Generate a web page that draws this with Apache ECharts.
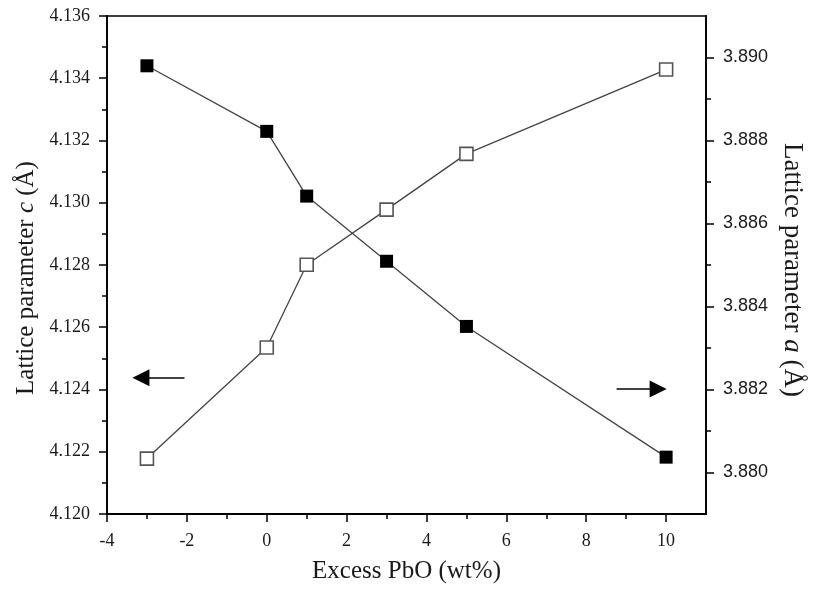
<!DOCTYPE html>
<html>
<head>
<meta charset="utf-8">
<script src="https://cdn.jsdelivr.net/npm/echarts@6/dist/echarts.min.js"></script>
<style>
html,body{margin:0;padding:0;background:#fff;}
#chart{width:814px;height:589px;}
</style>
</head>
<body>
<div id="chart"></div>
<script>
// ---- data ----
const excessPbO = [-3, 0, 1, 3, 5, 10];
const latticeC = [4.12178, 4.12535, 4.12801, 4.12978, 4.13157, 4.13428]; // open squares, left axis
const latticeA = [3.88980, 3.88822, 3.88666, 3.88509, 3.88352, 3.88037]; // filled squares, right axis

const xTickValues = [-4, -2, 0, 2, 4, 6, 8, 10];
const xMinorTickValues = [-3, -1, 1, 3, 5, 7, 9];
const leftTickValues = [4.120, 4.122, 4.124, 4.126, 4.128, 4.130, 4.132, 4.134, 4.136];
const rightTickValues = [3.880, 3.882, 3.884, 3.886, 3.888, 3.890];
const rightMinorTickValues = [3.881, 3.883, 3.885, 3.887, 3.889];

// arrow annotations (data coordinates)
const arrowC = [[-2.06, 4.12438], [-3.15, 4.12438]];
const arrowA = [[8.76, 3.88201], [9.8, 3.88201]];

const serif = 'Liberation Serif';
const sans = 'Liberation Sans';
const txt = '#1a1a1a';

const chart = echarts.init(document.getElementById('chart'), null, {renderer: 'canvas'});

const axisLineStyle = {color: '#000', width: 1.8};

function arrowLine(pts) {
  return {
    silent: true, symbol: ['none', 'triangle'], symbolSize: 17,
    label: {show: false},
    emphasis: {disabled: true},
    lineStyle: {color: '#000', width: 1.5, type: 'solid'},
    itemStyle: {color: '#000'},
    data: [[{coord: pts[0]}, {coord: pts[1]}]]
  };
}

chart.setOption({
  animation: false,
  backgroundColor: '#fff',
  grid: {left: 107, right: 104, top: 16, bottom: 71, show: true, borderColor: '#000', borderWidth: 1.5, backgroundColor: 'transparent'},
  xAxis: [
    {
      type: 'value', min: -4, max: 11, position: 'bottom',
      name: 'Excess PbO (wt%)', nameLocation: 'middle', nameGap: 45,
      nameTextStyle: {fontFamily: serif, fontSize: 25, color: txt},
      axisLine: {show: true, onZero: false, lineStyle: axisLineStyle},
      axisTick: {show: true, length: 8, lineStyle: {color: '#000', width: 1.5}, customValues: xTickValues},
      axisLabel: {show: true, margin: 18, fontFamily: serif, fontSize: 18, color: txt, customValues: xTickValues,
                  formatter: v => String(v)},
      splitLine: {show: false}
    },
    {
      type: 'value', min: -4, max: 11, position: 'bottom',
      axisLine: {show: false, onZero: false},
      axisTick: {show: true, length: 5, lineStyle: {color: '#000', width: 1.5}, customValues: xMinorTickValues},
      axisLabel: {show: false},
      splitLine: {show: false}
    }
  ],
  yAxis: [
    {
      type: 'value', min: 4.120, max: 4.136, interval: 0.002, position: 'left',
      name: 'Lattice parameter {i|c} (Å)', nameLocation: 'middle', nameGap: 55, nameRotate: 90,
      nameTextStyle: {fontFamily: serif, fontSize: 25, color: txt, padding: [0, 26, 0, 0],
                      rich: {i: {fontFamily: serif, fontStyle: 'italic', fontSize: 25, color: txt}}},
      axisLine: {show: true, onZero: false, lineStyle: axisLineStyle},
      axisTick: {show: true, length: 8, lineStyle: {color: '#000', width: 1.5}},
      minorTick: {show: true, splitNumber: 2, length: 5, lineStyle: {color: '#000', width: 1.5}},
      axisLabel: {margin: 17, fontFamily: serif, fontSize: 18, color: txt, formatter: v => v.toFixed(3)},
      splitLine: {show: false}
    },
    {
      type: 'value', min: 3.879, max: 3.891, position: 'right',
      name: 'Lattice parameter {i|a} (Å)', nameLocation: 'middle', nameGap: 69, nameRotate: -90,
      nameTextStyle: {fontFamily: serif, fontSize: 27, color: txt, padding: [0, 0, 0, 10],
                      rich: {i: {fontFamily: serif, fontStyle: 'italic', fontSize: 27, color: txt}}},
      axisLine: {show: true, onZero: false, lineStyle: axisLineStyle},
      axisTick: {show: true, length: 8, lineStyle: {color: '#000', width: 1.5}, customValues: rightTickValues},
      axisLabel: {margin: 17, fontFamily: sans, fontSize: 18, color: txt, customValues: rightTickValues,
                  formatter: v => v.toFixed(3)},
      splitLine: {show: false}
    },
    {
      type: 'value', min: 3.879, max: 3.891, position: 'right',
      axisLine: {show: false, onZero: false},
      axisTick: {show: true, length: 5, lineStyle: {color: '#000', width: 1.5}, customValues: rightMinorTickValues},
      axisLabel: {show: false},
      splitLine: {show: false}
    }
  ],
  series: [
    {
      name: 'c', type: 'line', xAxisIndex: 0, yAxisIndex: 0,
      data: excessPbO.map((x, i) => [x, latticeC[i]]),
      symbol: 'rect', symbolSize: 13,
      lineStyle: {color: '#444', width: 1.3},
      itemStyle: {color: '#fff', borderColor: '#555', borderWidth: 1.6},
      z: 3,
      markLine: arrowLine(arrowC)
    },
    {
      name: 'a', type: 'line', xAxisIndex: 0, yAxisIndex: 1,
      data: excessPbO.map((x, i) => [x, latticeA[i]]),
      symbol: 'rect', symbolSize: 13,
      lineStyle: {color: '#444', width: 1.3},
      itemStyle: {color: '#000', borderColor: '#000', borderWidth: 0},
      z: 4,
      markLine: arrowLine(arrowA)
    }
  ]
});
</script>
</body>
</html>
